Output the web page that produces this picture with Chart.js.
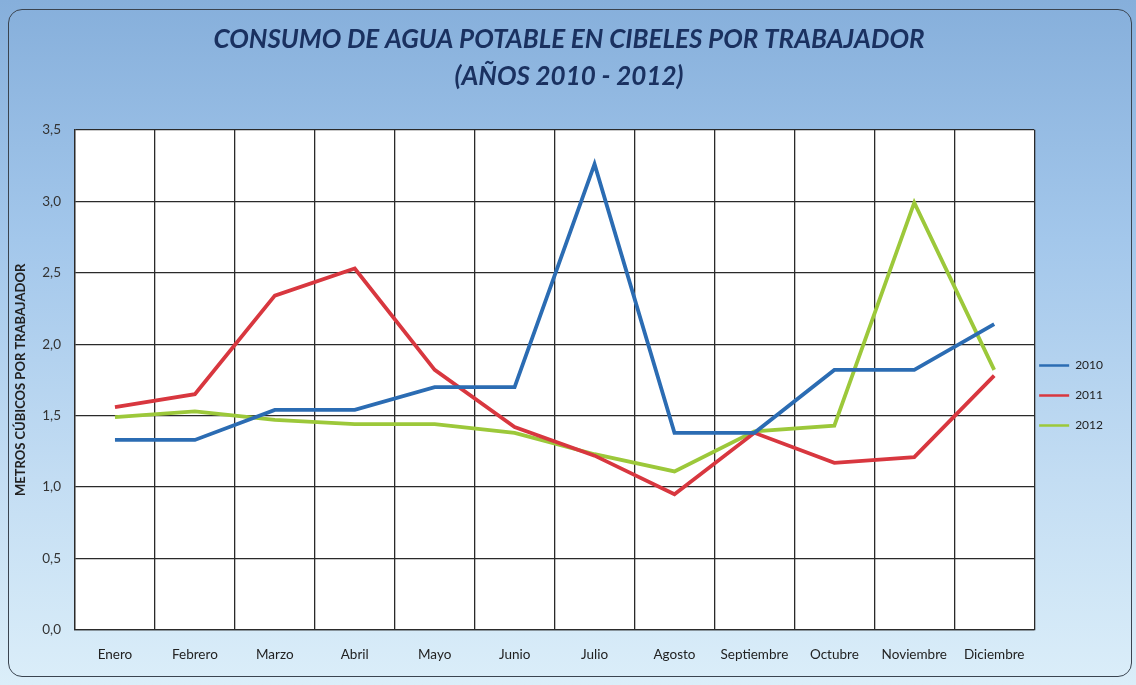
<!DOCTYPE html>
<html>
<head>
<meta charset="utf-8">
<script src="https://cdn.jsdelivr.net/npm/chart.js@4"></script>
<style>
  html, body { margin: 0; padding: 0; background: #d9ebf7; }
  #wrap {
    position: relative; width: 1136px; height: 685px; overflow: hidden;
    background: linear-gradient(180deg, #86afdb 0%, #a3c7eb 35%, #c3ddf3 70%, #dbeef9 100%);
  }
  #frame {
    position: absolute; left: 8px; top: 9px; width: 1124px; height: 668px;
    border: 1.5px solid #3a4450; border-radius: 14px; box-sizing: border-box;
  }
  canvas { position: absolute; left: 0; top: 0; }
</style>
</head>
<body>
<div id="wrap">
  <div id="frame"></div>
  <canvas id="myChart" width="1136" height="685"></canvas>
</div>
<script>
    const months = ['Enero', 'Febrero', 'Marzo', 'Abril', 'Mayo', 'Junio', 'Julio', 'Agosto', 'Septiembre', 'Octubre', 'Noviembre', 'Diciembre'];
    const years = ['2010', '2011', '2012'];
    const data2010 = [1.33, 1.33, 1.54, 1.54, 1.70, 1.70, 3.26, 1.38, 1.38, 1.82, 1.82, 2.14];
    const data2011 = [1.56, 1.65, 2.34, 2.53, 1.82, 1.42, 1.22, 0.95, 1.38, 1.17, 1.21, 1.78];
    const data2012 = [1.49, 1.53, 1.47, 1.44, 1.44, 1.38, 1.23, 1.11, 1.39, 1.43, 2.99, 1.82];
    const yTicks = [0, 0.5, 1, 1.5, 2, 2.5, 3, 3.5];

    // white plot background
    const plotBg = {
    id: 'plotBg',
    beforeDraw(chart) {
    const a = chart.chartArea;
    chart.ctx.save();
    chart.ctx.fillStyle = '#ffffff';
    chart.ctx.fillRect(a.left, a.top, a.right - a.left, a.bottom - a.top);
    chart.ctx.restore();
}
};

    // nudge legend to where it sits in the original
    const legendShift = {
    id: 'legendShift',
    afterLayout(chart) {
    const lg = chart.legend;
    lg.top += 52; lg.bottom += 52;
    lg.left -= 13; lg.right -= 13;
}
};

    const ctx = document.getElementById('myChart');

    new Chart(ctx, {
    type: 'line',
    data: {
    labels: months,
    datasets: [{
    label: years[0],
    data: data2010,
    borderColor: '#2b6cb3',
    backgroundColor: '#2b6cb3'
}, {
    label: years[1],
    data: data2011,
    borderColor: '#d8373f',
    backgroundColor: '#d8373f'
}, {
    label: years[2],
    data: data2012,
    borderColor: '#9cc83a',
    backgroundColor: '#9cc83a'
}]
},
    options: {
    responsive: false,
    animation: false,
    layout: {
    padding: { left: 12, right: 10, top: 12, bottom: 10 }
},
    elements: {
    line: { borderWidth: 3.8, tension: 0 },
    point: { radius: 0 }
},
    plugins: {
    title: {
    display: true,
    text: ['CONSUMO DE AGUA POTABLE EN CIBELES POR TRABAJADOR', '(AÑOS 2010 - 2012)'],
    color: '#1a3160',
    font: { family: 'Lato', size: 26, weight: 'bold', style: 'italic', lineHeight: 1.42 },
    padding: { top: 9, bottom: 35 }
},
    legend: {
    position: 'right',
    labels: {
    usePointStyle: true,
    pointStyle: 'line',
    pointStyleWidth: 30,
    color: '#222',
    font: { family: 'Lato', size: 12 },
    padding: 18,
    generateLabels: (chart) => {
    const items = Chart.defaults.plugins.legend.labels.generateLabels(chart);
    items.forEach(it => { it.lineWidth = 2.5; it.pointStyle = 'line'; });
    return items;
}
}
},
    tooltip: { enabled: false }
},
    scales: {
    x: {
    offset: true,
    grid: { offset: true, color: '#2a2a2a', lineWidth: 1.3, drawTicks: false },
    border: { color: '#2a2a2a', width: 1.3 },
    ticks: { color: '#222', font: { family: 'Lato', size: 13.5 }, padding: 17, maxRotation: 0, autoSkip: false },
    afterFit: (s) => { s.height = 45; }
},
    y: {
    min: 0,
    max: 3.5,
    afterBuildTicks: (s) => { s.ticks = yTicks.map(v => ({ value: v })); },
    grid: { color: '#2a2a2a', lineWidth: 1.3, drawTicks: false },
    border: { color: '#2a2a2a', width: 1.3 },
    ticks: {
    color: '#333',
    font: { family: 'Lato', size: 13.5 },
    padding: 14,
    callback: (v) => v.toFixed(1).replace('.', ',')
},
    title: {
    display: true,
    text: 'METROS CÚBICOS POR TRABAJADOR',
    color: '#222',
    font: { family: 'Lato', size: 13, weight: 'bold' },
    padding: 1
},
    afterFit: (s) => { s.width = 63; }
}
}
},
    plugins: [plotBg, legendShift]
});
</script>
</body>
</html>
